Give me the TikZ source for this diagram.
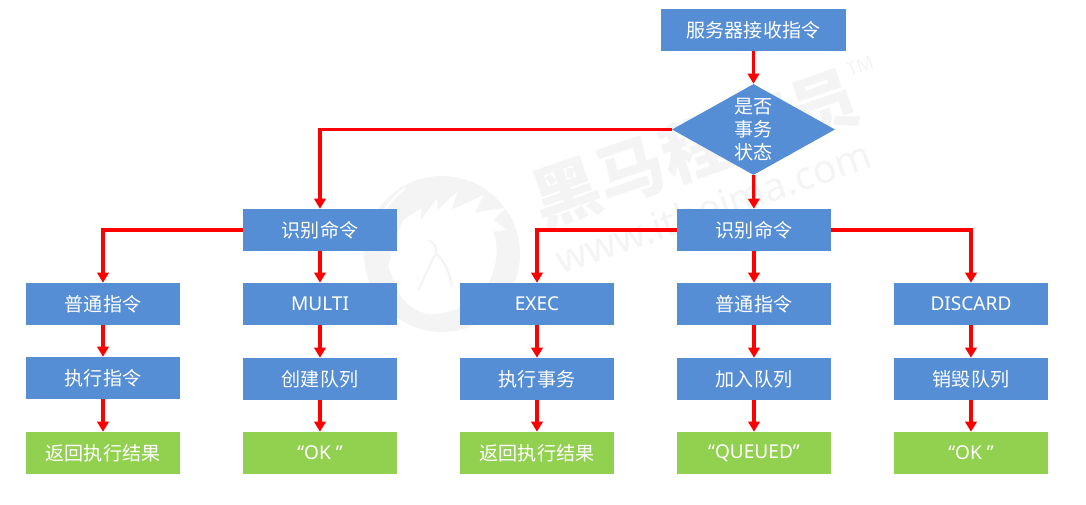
\documentclass[tikz,border=0pt]{standalone}
\usepackage{fontspec}
\setmainfont{Noto Sans CJK SC}
\newfontfamily\latinfont{Noto Sans}
\usetikzlibrary{shapes.geometric,arrows.meta}
\definecolor{stepblue}{HTML}{558ED5}
\definecolor{resultgreen}{HTML}{92D050}
\definecolor{markgray}{HTML}{F4F4F4}
\tikzset{
  stepbox/.style={fill=stepblue,text=white,minimum width=115.5pt,minimum height=31.5pt,inner sep=0pt,font=\fontsize{14.3}{17.25}\selectfont},
  widebox/.style={stepbox,minimum width=138.75pt},
  resultbox/.style={stepbox,fill=resultgreen},
  askbox/.style={stepbox,shape=diamond,aspect=1.79,minimum width=122.25pt,minimum height=68.25pt,align=center},
  link/.style={red,line width=2.4pt,-{Triangle[width=8.5pt,length=7.5pt]}},
  markname/.style={text=markgray,inner sep=0pt,rotate=19},
}
\begin{document}
\begin{tikzpicture}[x=0.75pt,y=-0.75pt]
      \useasboundingbox (0,0) rectangle (1086,505);
      % watermark
      \fill[markgray] (442,254) circle (78);
      \begin{scope}[shift={(350,170)},x=0.25pt,y=-0.25pt]
        \draw[white,line width=1.5pt] (68,245) .. controls (72,160) and (110,95) .. (165,55);
        \fill[white] (150,375) -- (115,290) -- (140,195) -- (160,150) -- (215,115) -- (212,150)
          -- (262,85) -- (262,120) -- (322,65) -- (305,120) -- (400,75) -- (375,128) -- (470,112)
          -- (430,150) -- (470,180) -- (430,185) .. controls (445,225) and (445,280) .. (415,340)
          .. controls (390,385) and (320,430) .. (250,432) .. controls (210,432) and (180,415) .. (150,375) -- cycle;
        \draw[markgray,line width=1.6pt] (235,210) .. controls (255,220) and (262,235) .. (258,250)
          .. controls (240,280) and (225,320) .. (205,360);
        \draw[markgray,line width=1.6pt] (258,250) .. controls (285,275) and (300,310) .. (305,350);
      \end{scope}
      \draw
        (695,148) node[markname,font=\fontsize{51}{51}\selectfont\bfseries] (markcn){黑马程序员}
        (713,207) node[markname,font=\latinfont\fontsize{29.5}{29.5}\selectfont] (markurl){www.itheima.com}
        (860,66) node[markname,font=\latinfont\fontsize{14}{14}\selectfont] (marktm){TM};
      \draw
        (753.5,30) node[widebox] (recv){服务器接收指令}
        (753.5,129.5) node[askbox] (ask){是否\\事务\\状态}
        (320,230) node[stepbox] (cmdl){识别命令}
        (754,230) node[stepbox] (cmdr){识别命令}
        (103,304) node[stepbox] (plainl){普通指令}
        (320,304) node[stepbox] (multi){\latinfont MULTI}
        (537,304) node[stepbox] (exec){\latinfont EXEC}
        (754,304) node[stepbox] (plainr){普通指令}
        (971,304) node[stepbox] (discard){\latinfont DISCARD}
        (103,378) node[stepbox] (runcmd){执行指令}
        (320,379) node[stepbox] (mkqueue){创建队列}
        (537,379) node[stepbox] (runtx){执行事务}
        (754,379) node[stepbox] (addqueue){加入队列}
        (971,379) node[stepbox] (delqueue){销毁队列}
        (103,453) node[resultbox] (retl){返回执行结果}
        (320,453) node[resultbox] (okl){\latinfont “OK ”}
        (537,453) node[resultbox] (retr){返回执行结果}
        (754,453) node[resultbox] (queued){\latinfont “QUEUED”}
        (971,453) node[resultbox] (okr){\latinfont “OK ”};
      \begin{scope}[link]
        \draw (recv) to (ask);
        \draw (ask) to (cmdr);
        \draw (ask.west) -| (cmdl);
        \draw (cmdl.west) -| (plainl);
        \draw (cmdl) to (multi);
        \draw (cmdr.west) -| (exec);
        \draw (cmdr) to (plainr);
        \draw (cmdr.east) -| (discard);
        \draw (plainl) to (runcmd);
        \draw (multi) to (mkqueue);
        \draw (exec) to (runtx);
        \draw (plainr) to (addqueue);
        \draw (discard) to (delqueue);
        \draw (runcmd) to (retl);
        \draw (mkqueue) to (okl);
        \draw (runtx) to (retr);
        \draw (addqueue) to (queued);
        \draw (delqueue) to (okr);
      \end{scope}
    \end{tikzpicture}
\end{document}
